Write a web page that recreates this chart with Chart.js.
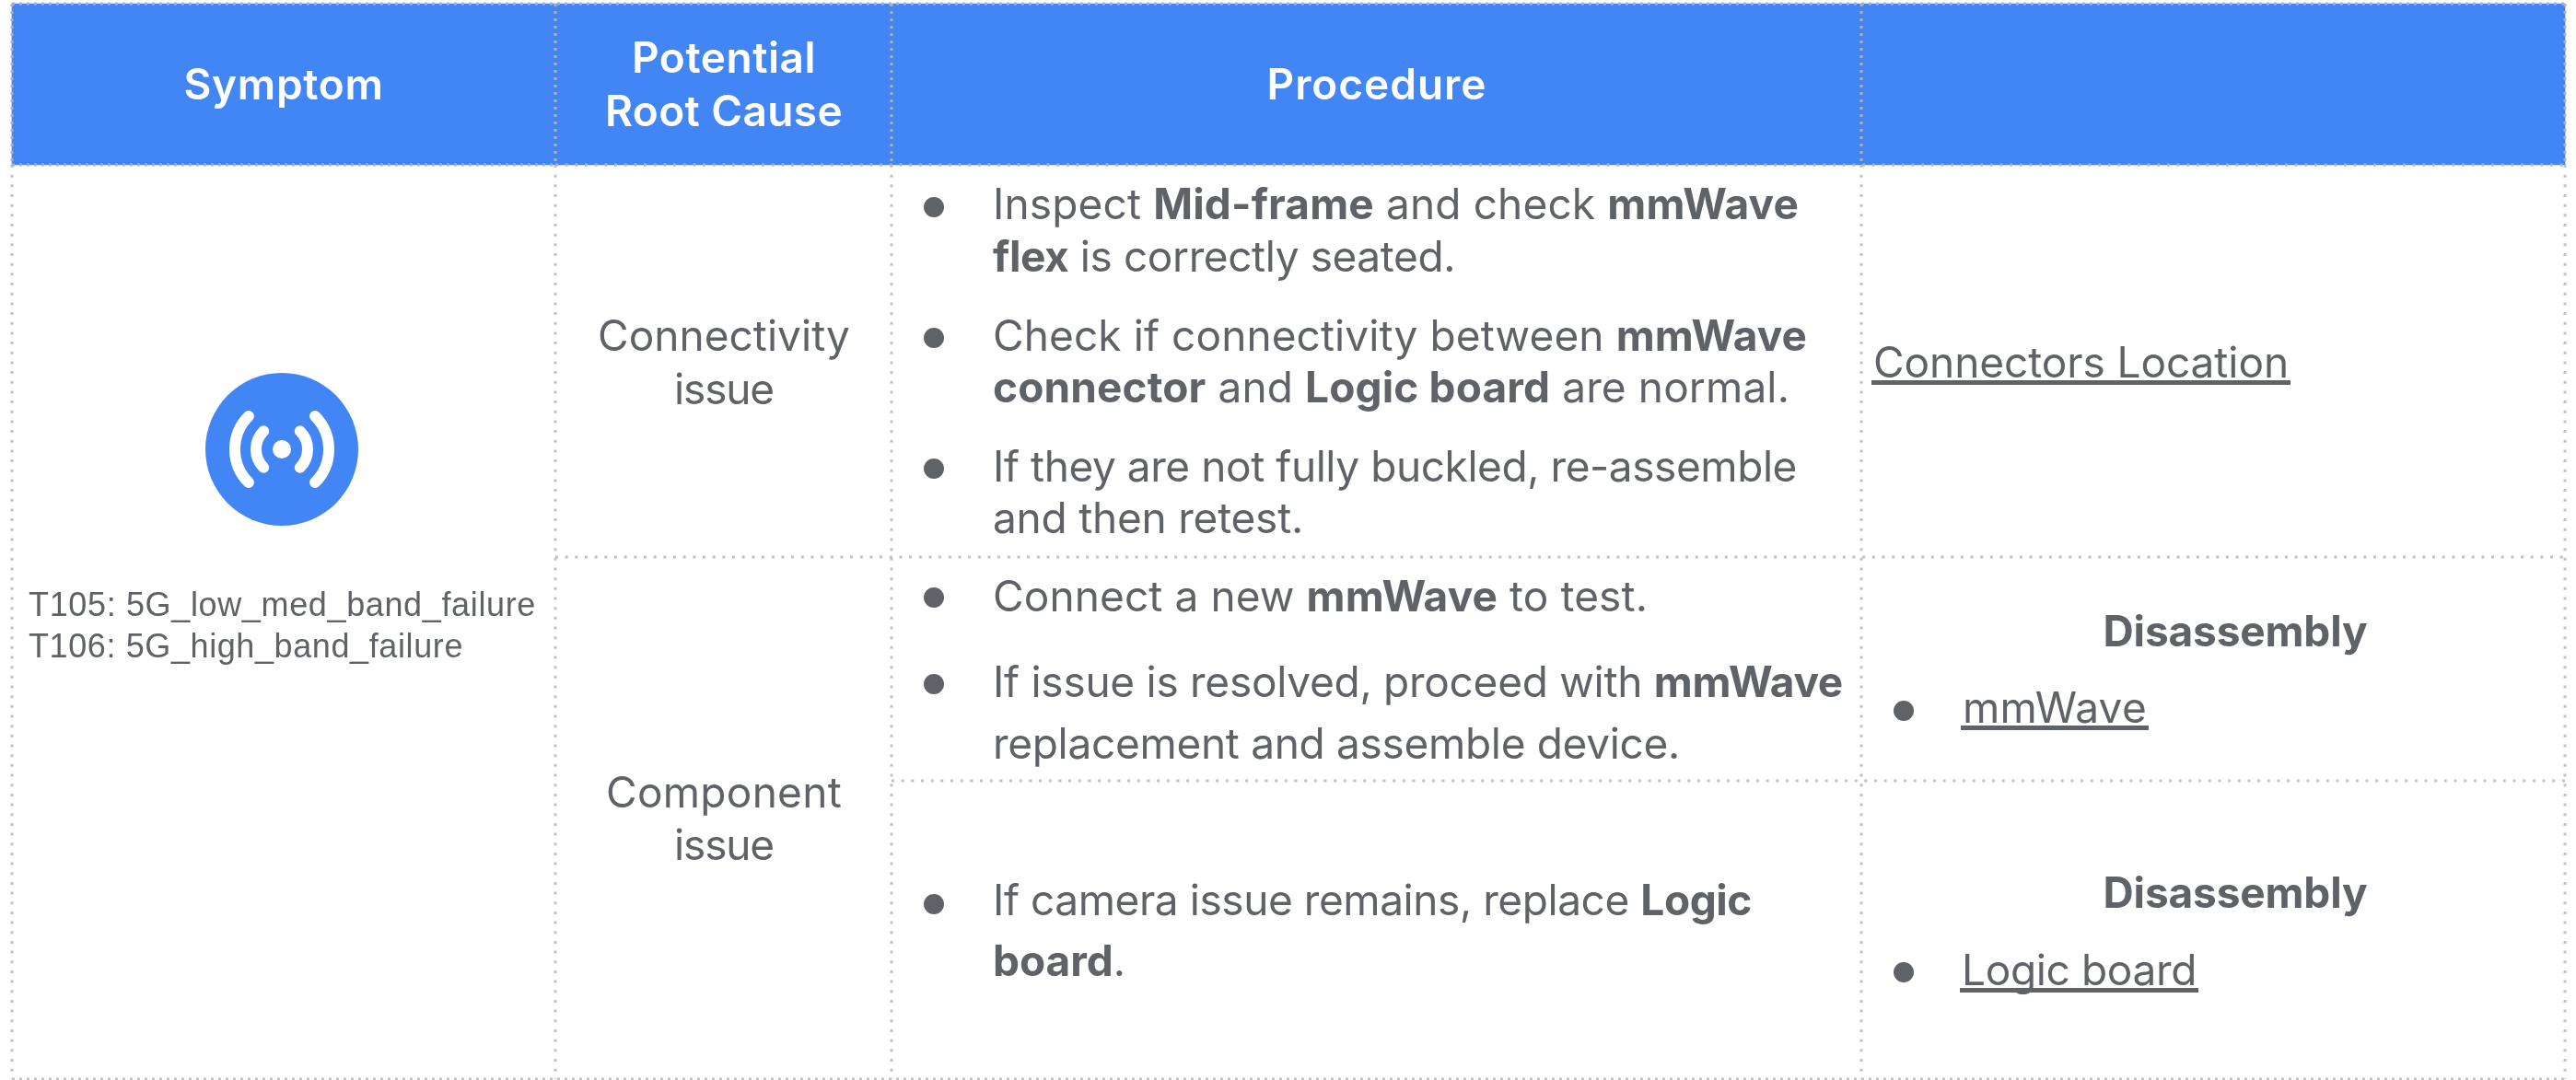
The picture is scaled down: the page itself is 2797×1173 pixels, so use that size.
<!DOCTYPE html>
<html>
<head>
<meta charset="utf-8">
<title>5G failure troubleshooting</title>
<script src="https://cdn.jsdelivr.net/npm/chart.js@4/dist/chart.umd.min.js"></script>
<style>
  html, body { margin: 0; padding: 0; background: #fff; }
  #wrap { width: 2797px; height: 1173px; }
</style>
</head>
<body>
<div id="wrap"><canvas id="table"></canvas></div>
<script>
// table content
const headerLabels = ["Symptom", "Potential", "Root Cause", "Procedure"];
const symptomLines = ["T105: 5G_low_med_band_failure", "T106: 5G_high_band_failure"];
const rootCauseLines = ["Connectivity", "issue", "Component", "issue"];
// **x** marks bold runs
const procedureLines = [
  "Inspect **Mid-frame** and check **mmWave**",
  "**flex** is correctly seated.",
  "Check if connectivity between **mmWave**",
  "**connector** and **Logic board** are normal.",
  "If they are not fully buckled, re-assemble",
  "and then retest.",
  "Connect a new **mmWave** to test.",
  "If issue is resolved, proceed with **mmWave**",
  "replacement and assemble device.",
  "If camera issue remains, replace **Logic**",
  "**board**."
];
const linkLabels = ["Connectors Location", "mmWave", "Logic board"];
const disassemblyLabel = "Disassembly";

// table geometry, in page pixels (the scales run 1:1 with the canvas)
const columnEdges = [13, 603, 968, 2021, 2785];
const rowEdges = [4, 179, 605, 848, 1172];
const headerCentres = [308, 786, 786, 1495];
const headerBaselines = [108, 79, 137, 108];
const headerWidths = [217, 200, 258, 239];
const rootCauseBaselines = [381, 439, 877, 934];
const rootCauseWidths = [274, 108, 256, 108];
const symptomBaselines = [669, 714];
const symptomWidths = [551, 472];
const procedureBaselines = [238, 295, 381, 437, 523, 579, 664, 757, 824, 994, 1060];
const procedureWidths = [875, 502, 884, 865, 873, 337, 711, 923, 746, 824, 144];
const procedureBulletRows = [225, 367, 509, 649, 743, 982];
const linkBulletRows = [772, 1056];
const linkStarts = [2034, 2131, 2130];
const linkBaselines = [410, 785, 1070];
const linkWidths = [451, 200, 255];
const disassemblyBaselines = [702, 986];

const BLUE = "#4285f4";
const GREY = "#5f6368";
const LINE_HEADER = "#b0b0b0";
const LINE_BODY = "#c2c2c2";
const SANS = "Inter";
const BODY_SIZE = 46;
const DENSE = [3, 5];
const SPARSE = [3, 7.67];

function dotted(from, to, dash, colour) {
  return {
    type: "scatter", data: [{ x: from[0], y: from[1] }, { x: to[0], y: to[1] }],
    showLine: true, fill: false, borderColor: colour, borderWidth: 3,
    borderDash: dash, pointRadius: 0, order: 1
  };
}

const [x0, x1, x2, x3, x4] = columnEdges;
const [y0, y1, y2, y3, y4] = rowEdges;
const gridLines = [
  dotted([x0, y0], [x4, y0], DENSE, LINE_HEADER),
  dotted([x0, y1], [x1, y1], DENSE, LINE_HEADER),
  dotted([x1, y1], [x4, y1], SPARSE, LINE_HEADER),
  dotted([x1, y2], [x4, y2], SPARSE, LINE_BODY),
  dotted([x2, y3], [x4, y3], SPARSE, LINE_BODY),
  dotted([x0, y4], [x4, y4], DENSE, LINE_BODY),
  ...columnEdges.map(e => dotted([e, y0], [e, y1], DENSE, LINE_HEADER)),
  ...columnEdges.map(e => dotted([e, y1], [e, y4], SPARSE, LINE_BODY))
];

// draws a string (with **bold** runs) stretched to the width
function drawFitted(ctx, str, x, y, width, align, regular, bold) {
  const runs = str.split("**");
  const fontOf = i => (i % 2 ? bold : regular);
  ctx.letterSpacing = "0px";
  let natural = 0, count = 0;
  runs.forEach((part, i) => {
    ctx.font = fontOf(i);
    natural += ctx.measureText(part).width;
    count += part.length;
  });
  const gap = (width - natural) / count;
  ctx.letterSpacing = gap + "px";
  ctx.textAlign = "left";
  let cur = align === "center" ? x - width / 2 : x;
  runs.forEach((part, i) => {
    if (!part) return;
    ctx.font = fontOf(i);
    ctx.fillText(part, cur, y);
    cur += ctx.measureText(part).width;
  });
  ctx.letterSpacing = "0px";
}

const tableText = {
  id: "tableText",
  afterDatasetsDraw(chart) {
    const { ctx, scales: { x, y } } = chart;
    const px = v => x.getPixelForValue(v), py = v => y.getPixelForValue(v);
    const regular = `400 ${BODY_SIZE}px ${SANS}`;
    const bold = `700 ${BODY_SIZE}px ${SANS}`;
    const headerFont = `600 ${BODY_SIZE}px ${SANS}`;
    ctx.save();
    ctx.textBaseline = "alphabetic";

    ctx.fillStyle = "#fff";
    headerLabels.forEach((t, i) => {
      drawFitted(ctx, t, px(headerCentres[i]), py(headerBaselines[i]), headerWidths[i], "center", headerFont, headerFont);
    });

    ctx.fillStyle = GREY;
    rootCauseLines.forEach((t, i) => {
      drawFitted(ctx, t, px(786), py(rootCauseBaselines[i]), rootCauseWidths[i], "center", regular, bold);
    });
    disassemblyBaselines.forEach(b => {
      drawFitted(ctx, disassemblyLabel, px(2427), py(b), 287, "center", bold, bold);
    });
    symptomLines.forEach((t, i) => {
      drawFitted(ctx, t, px(31), py(symptomBaselines[i]), symptomWidths[i], "left", "36px 'Liberation Sans'", "36px 'Liberation Sans'");
    });
    procedureLines.forEach((t, i) => {
      drawFitted(ctx, t, px(1078), py(procedureBaselines[i]), procedureWidths[i], "left", regular, bold);
    });
    linkLabels.forEach((t, i) => {
      drawFitted(ctx, t, px(linkStarts[i]), py(linkBaselines[i]), linkWidths[i], "left", regular, bold);
      ctx.fillRect(px(linkStarts[i]) - 2, py(linkBaselines[i]) + 3, linkWidths[i] + 4, 5);
    });

    // signal icon strokes
    const cx = px(306), cy = py(488);
    ctx.strokeStyle = "#fff";
    ctx.lineWidth = 12;
    ctx.lineCap = "round";
    [28, 51].forEach(r => {
      [0, Math.PI].forEach(side => {
        ctx.beginPath();
        ctx.arc(cx, cy, r, side - Math.PI / 4, side + Math.PI / 4);
        ctx.stroke();
      });
    });
    ctx.fillStyle = "#fff";
    ctx.beginPath();
    ctx.arc(cx, cy, 10, 0, Math.PI * 2);
    ctx.fill();
    ctx.restore();
  }
};

new Chart(document.getElementById("table"), {
  type: "scatter",
  data: {
    datasets: [
      ...gridLines,
      {
        type: "bar", label: "header",
        data: [{ x: (x0 + x4) / 2, y: [y0, y1] }],
        backgroundColor: BLUE, barThickness: x4 - x0, order: 3
      },
      {
        label: "icon",
        data: [{ x: 306, y: 488 }],
        backgroundColor: BLUE, pointRadius: 83, pointBorderWidth: 0, order: 2
      },
      {
        label: "bullets",
        data: [
          ...procedureBulletRows.map(r => ({ x: 1014, y: r })),
          ...linkBulletRows.map(r => ({ x: 2067, y: r }))
        ],
        backgroundColor: GREY, pointRadius: 11, pointBorderWidth: 0, order: 2
      }
    ]
  },
  options: {
    responsive: true,
    maintainAspectRatio: false,
    animation: false,
    layout: { padding: 0, autoPadding: false },
    events: [],
    plugins: { legend: { display: false }, tooltip: { enabled: false } },
    scales: {
      x: { type: "linear", min: 0, max: 2797, display: false, offset: false },
      y: { type: "linear", min: 0, max: 1173, reverse: true, display: false }
    }
  },
  plugins: [tableText]
});
</script>
</body>
</html>
